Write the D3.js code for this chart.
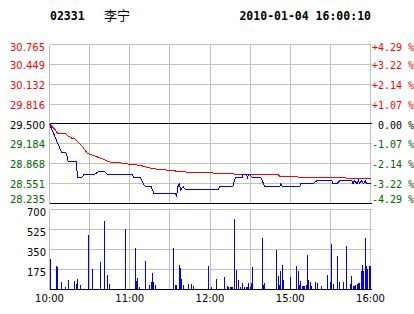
<!DOCTYPE html>
<html>
<head>
<meta charset="utf-8">
<script src="https://cdn.jsdelivr.net/npm/d3@7"></script>
<style>
  body { margin: 0; background: #fff; }
  svg { display: block; }
</style>
</head>
<body>
<div id="chart"></div>
<script>
// Header info
var stockCode = "02331";
var stockName = "李宁";
var stampText = "2010-01-04 16:00:10";

// Axis labels
var prevClose = 29.50;
var priceTicks = [30.765, 30.449, 30.132, 29.816, 29.500, 29.184, 28.868, 28.551, 28.235];
var pctTicks = ["+4.29 %", "+3.22 %", "+2.14 %", "+1.07 %", " 0.00 %", "-1.07 %", "-2.14 %", "-3.22 %", "-4.29 %"];
var volTicks = [175, 350, 525, 700];
var timeLabels = ["10:00", "11:00", "12:00", "15:00", "16:00"];
var timeLabelMin = [0, 60, 120, 180, 240];

// Price line (minute index, price)
var priceMin = [0, 1, 2, 3, 4, 5, 6, 7, 8, 9, 12, 13, 14, 20, 21, 24, 26, 34, 37, 41, 43, 59, 62, 63, 68, 70, 72, 76, 78, 94, 95, 96, 97, 98, 100, 102, 126, 127, 137, 139, 144, 145, 147, 148, 149, 152, 158, 161, 172, 173, 174, 187, 188, 197, 200, 211, 212, 215, 217, 226, 227, 228, 230, 231, 232, 233, 235, 236, 237, 240];
var priceVal = [29.50, 29.45, 29.40, 29.35, 29.30, 29.25, 29.20, 29.15, 29.10, 29.05, 29.05, 29.00, 28.90, 28.90, 28.65, 28.65, 28.70, 28.70, 28.75, 28.75, 28.70, 28.70, 28.70, 28.65, 28.65, 28.55, 28.50, 28.50, 28.40, 28.40, 28.35, 28.50, 28.55, 28.45, 28.50, 28.45, 28.45, 28.50, 28.50, 28.65, 28.65, 28.70, 28.70, 28.65, 28.70, 28.65, 28.65, 28.50, 28.50, 28.55, 28.50, 28.50, 28.55, 28.55, 28.60, 28.60, 28.55, 28.55, 28.60, 28.60, 28.55, 28.60, 28.55, 28.60, 28.55, 28.60, 28.55, 28.60, 28.55, 28.55];

// Average price line (minute index, price)
var avgMin = [0, 3, 5, 6, 12, 14, 16, 19, 22, 24, 26, 28, 31, 34, 39, 43, 48, 53, 60, 68, 77, 86, 95, 105, 113, 122, 137, 139, 155, 156, 171, 172, 183, 187, 221, 222, 240];
var avgVal = [29.50, 29.44, 29.39, 29.35, 29.35, 29.31, 29.28, 29.26, 29.20, 29.16, 29.10, 29.04, 29.01, 28.99, 28.95, 28.91, 28.88, 28.88, 28.86, 28.84, 28.79, 28.77, 28.75, 28.73, 28.73, 28.72, 28.71, 28.70, 28.70, 28.69, 28.69, 28.67, 28.67, 28.65, 28.65, 28.64, 28.64];

// Volume bars (minute index, volume)
var volMin = [1, 5, 6, 9, 12, 14, 19, 20, 21, 23, 29, 32, 38, 41, 43, 45, 57, 64, 65, 66, 67, 72, 75, 76, 77, 78, 79, 93, 94, 95, 97, 98, 99, 100, 104, 106, 108, 119, 121, 125, 131, 133, 134, 135, 136, 137, 138, 140, 141, 143, 144, 146, 147, 148, 149, 150, 151, 152, 159, 160, 161, 170, 171, 172, 173, 174, 175, 180, 185, 186, 187, 188, 189, 190, 191, 192, 193, 194, 195, 196, 199, 200, 203, 208, 210, 211, 212, 215, 217, 220, 222, 225, 226, 227, 228, 229, 230, 231, 232, 233, 234, 235, 236, 237, 238, 239, 240];
var volVal = [270, 205, 197, 68, 22, 83, 74, 45, 92, 39, 480, 180, 240, 600, 127, 48, 530, 363, 74, 100, 22, 250, 39, 66, 144, 66, 39, 363, 39, 39, 214, 188, 92, 39, 48, 48, 30, 205, 22, 92, 110, 30, 22, 22, 22, 22, 617, 170, 83, 22, 57, 22, 22, 22, 57, 22, 57, 197, 450, 39, 57, 345, 118, 39, 162, 214, 83, 110, 205, 162, 39, 74, 30, 30, 30, 39, 302, 83, 66, 30, 66, 57, 30, 127, 66, 398, 48, 293, 66, 66, 380, 48, 118, 30, 30, 39, 48, 57, 57, 162, 214, 162, 450, 205, 180, 205, 205];

var width = 414, height = 314;
var left = 49.5, right = 370.5;
var gridColor = "#c0c0c0", upColor = "#ff0000", downColor = "#006600";

var svg = d3.select("#chart").append("svg")
    .attr("width", width)
    .attr("height", height)
    .style("font-family", "'DejaVu Sans', Verdana, sans-serif");

var x = d3.scaleLinear().domain([0, 240]).range([left, right]);
var y = d3.scaleLinear()
    .domain([prevClose * (1 - 0.0429), prevClose * (1 + 0.0429)])
    .range([203.5, 44.5]);
var vy = d3.scaleLinear().domain([0, 700]).range([289.5, 209.5]);

// Header
svg.append("text").attr("x", 50).attr("y", 20)
    .attr("font-family", "'DejaVu Sans Mono', monospace").attr("font-weight", "bold")
    .attr("font-size", 11.5).text(stockCode);
svg.append("text").attr("x", 104).attr("y", 20)
    .attr("font-family", "'Noto Sans CJK SC', sans-serif")
    .attr("font-size", 13).text(stockName);
svg.append("text").attr("x", 371).attr("y", 20).attr("text-anchor", "end")
    .attr("font-family", "'DejaVu Sans Mono', monospace").attr("font-weight", "bold")
    .attr("font-size", 11.5).text(stampText);

var g = svg.append("g").attr("shape-rendering", "crispEdges");

// Vertical grid lines every 30 minutes, both panels
var vGrid = d3.range(0, 241, 30);
g.selectAll(".vgrid").data(vGrid).enter().append("line")
    .attr("x1", function(d) { return Math.round(x(d) - 0.5) + 0.5; })
    .attr("x2", function(d) { return Math.round(x(d) - 0.5) + 0.5; })
    .attr("y1", 44.5).attr("y2", 203.5)
    .attr("stroke", gridColor);
g.selectAll(".vgrid2").data(vGrid).enter().append("line")
    .attr("x1", function(d) { return Math.round(x(d) - 0.5) + 0.5; })
    .attr("x2", function(d) { return Math.round(x(d) - 0.5) + 0.5; })
    .attr("y1", 209.5).attr("y2", 289.5)
    .attr("stroke", gridColor);

// Horizontal price grid
g.selectAll(".hgrid").data(priceTicks).enter().append("line")
    .attr("x1", left).attr("x2", right + 1)
    .attr("y1", function(d) { return Math.round(y(d) - 0.5) + 0.5; })
    .attr("y2", function(d) { return Math.round(y(d) - 0.5) + 0.5; })
    .attr("stroke", function(d, i) { return (i == 4 || i == 8) ? "#000" : gridColor; });

// Horizontal volume grid
g.selectAll(".vhgrid").data([0].concat(volTicks)).enter().append("line")
    .attr("x1", left).attr("x2", right + 1)
    .attr("y1", function(d) { return Math.round(vy(d) - 0.5) + 0.5; })
    .attr("y2", function(d) { return Math.round(vy(d) - 0.5) + 0.5; })
    .attr("stroke", function(d) { return d == 0 ? "#000" : gridColor; });

// Price axis labels, left and right
function labelColor(i) { return i < 4 ? upColor : (i == 4 ? "#000" : downColor); }
function labelY(d) { return Math.max(47, Math.min(199.5, y(d) + 1)) + 3.6; }
svg.selectAll(".plab").data(priceTicks).enter().append("text")
    .attr("x", 45).attr("y", labelY)
    .attr("text-anchor", "end").attr("font-size", 10)
    .attr("fill", function(d, i) { return labelColor(i); })
    .text(function(d) { return d.toFixed(3); });
svg.selectAll(".rlab").data(priceTicks).enter().append("text")
    .attr("x", 372).attr("y", labelY)
    .attr("font-family", "'DejaVu Sans Mono', monospace").attr("font-size", 10)
    .attr("fill", function(d, i) { return labelColor(i); })
    .attr("xml:space", "preserve")
    .text(function(d, i) { return pctTicks[i]; });

// Volume labels
svg.selectAll(".vlab").data(volTicks).enter().append("text")
    .attr("x", 46).attr("y", function(d) { return vy(d) + 3 + 3.5; })
    .attr("text-anchor", "end").attr("font-size", 10)
    .text(function(d) { return d; });

// Time labels
svg.selectAll(".tlab").data(timeLabels).enter().append("text")
    .attr("x", function(d, i) { return x(timeLabelMin[i]); })
    .attr("y", 302).attr("text-anchor", "middle").attr("font-size", 10)
    .text(function(d) { return d; });

// Volume bars
g.selectAll(".bar").data(volMin).enter().append("rect")
    .attr("x", function(d) { return Math.floor(x(d)); })
    .attr("width", 1)
    .attr("y", function(d, i) { return Math.round(vy(volVal[i])); })
    .attr("height", function(d, i) { return 289 - Math.round(vy(volVal[i])); })
    .attr("fill", "#0000ff");

// Average and price lines
var line = d3.line()
    .x(function(d) { return x(d[0]); })
    .y(function(d) { return y(d[1]); });
g.append("path")
    .attr("d", line(avgMin.map(function(m, i) { return [m, avgVal[i]]; })))
    .attr("fill", "none").attr("stroke", upColor).attr("stroke-width", 1);
g.append("path")
    .attr("d", line(priceMin.map(function(m, i) { return [m, priceVal[i]]; })))
    .attr("fill", "none").attr("stroke", "#0000ff").attr("stroke-width", 1);
</script>
</body>
</html>
